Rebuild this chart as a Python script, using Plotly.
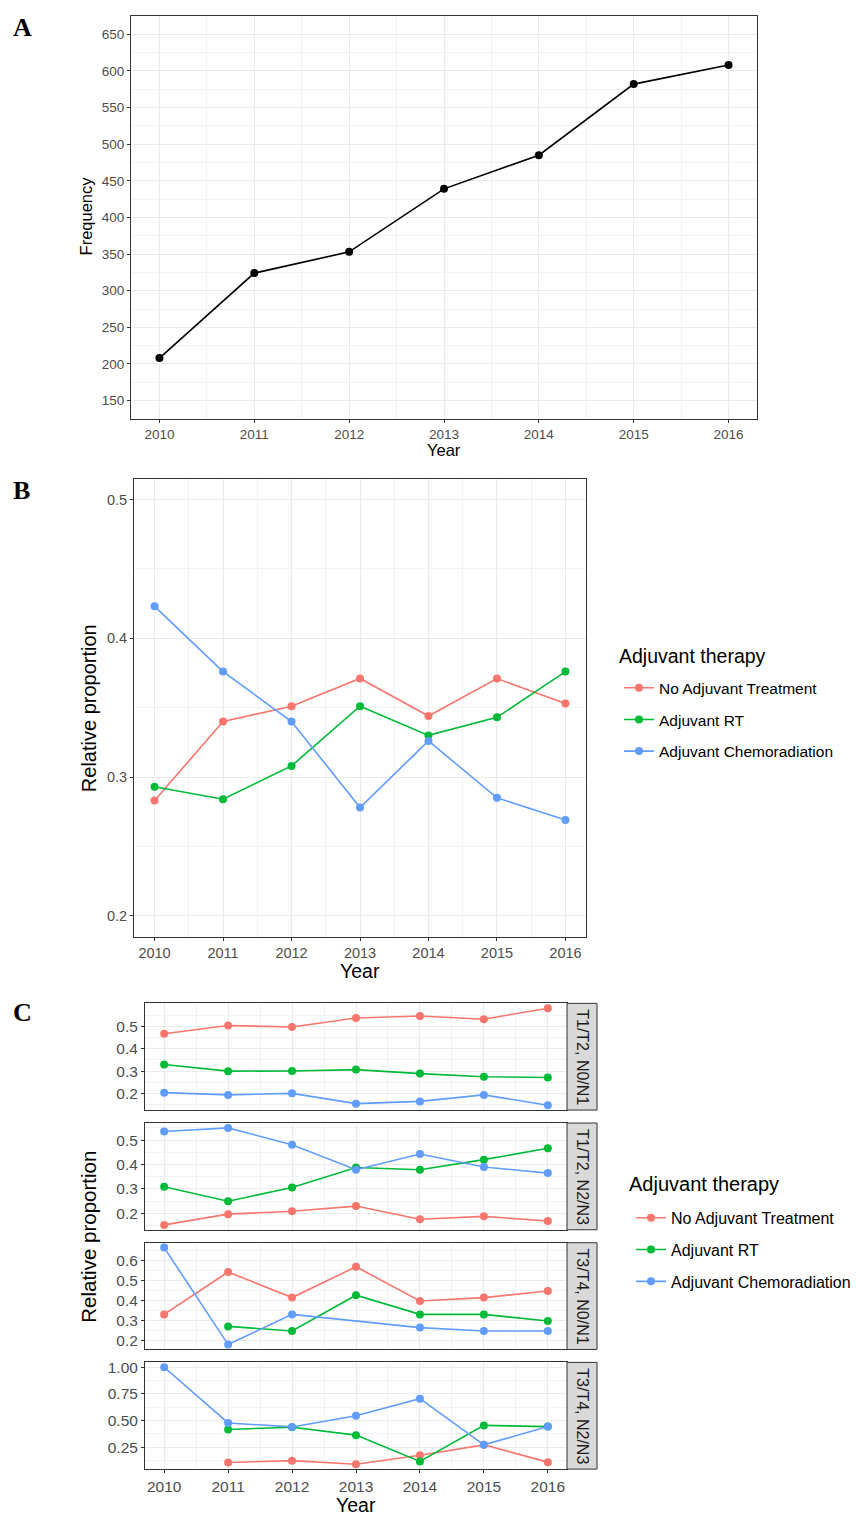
import plotly.graph_objects as go

W, H = 856, 1515

# ---------------- data ----------------
years = [2010, 2011, 2012, 2013, 2014, 2015, 2016]
year_ticks = ["2010", "2011", "2012", "2013", "2014", "2015", "2016"]

freq = [208, 324, 353, 439, 485, 582, 608]

therapies = ["No Adjuvant Treatment", "Adjuvant RT", "Adjuvant Chemoradiation"]
colors = ["#F8766D", "#00BA38", "#619CFF"]

b_no = [0.283, 0.340, 0.351, 0.371, 0.344, 0.371, 0.353]
b_rt = [0.293, 0.284, 0.308, 0.351, 0.330, 0.343, 0.376]
b_chemo = [0.423, 0.376, 0.340, 0.278, 0.326, 0.285, 0.269]

facets = ["T1/T2, N0/N1", "T1/T2, N2/N3", "T3/T4, N0/N1", "T3/T4, N2/N3"]
c1_no = [0.467, 0.504, 0.497, 0.537, 0.546, 0.532, 0.581]
c1_rt = [0.330, 0.300, 0.301, 0.307, 0.289, 0.275, 0.272]
c1_chemo = [0.204, 0.194, 0.201, 0.155, 0.165, 0.194, 0.148]
c2_no = [0.153, 0.197, 0.209, 0.230, 0.176, 0.188, 0.169]
c2_rt = [0.309, 0.250, 0.306, 0.388, 0.379, 0.420, 0.467]
c2_chemo = [0.535, 0.550, 0.481, 0.379, 0.443, 0.390, 0.365]
c3_no = [0.333, 0.545, 0.417, 0.571, 0.400, 0.417, 0.450]
c3_rt = [None, 0.273, 0.250, 0.429, 0.333, 0.333, 0.300]
c3_chemo = [0.667, 0.182, 0.333, None, 0.267, 0.250, 0.250]
c4_no = [None, 0.107, 0.125, 0.091, 0.176, 0.273, 0.111]
c4_rt = [None, 0.417, 0.438, 0.364, 0.118, 0.455, 0.444]
c4_chemo = [1.0, 0.478, 0.441, 0.545, 0.706, 0.273, 0.444]

c_series = [
    [c1_no, c1_rt, c1_chemo],
    [c2_no, c2_rt, c2_chemo],
    [c3_no, c3_rt, c3_chemo],
    [c4_no, c4_rt, c4_chemo],
]
c_ticks = [
    [0.2, 0.3, 0.4, 0.5],
    [0.2, 0.3, 0.4, 0.5],
    [0.2, 0.3, 0.4, 0.5, 0.6],
    [0.25, 0.50, 0.75, 1.00],
]
c_fmt = [".1f", ".1f", ".1f", ".2f"]

# ---------------- helpers ----------------
FONT = "Liberation Sans, Arial, sans-serif"
SERIF = "Liberation Serif, Times New Roman, serif"
LW = 1.6
MS = 8


def px(x):
    return x / W


def py(y):
    return 1 - y / H


def expand(vals, mult=0.05):
    v = [a for a in vals if a is not None]
    lo, hi = min(v), max(v)
    pad = (hi - lo) * mult
    return [lo - pad, hi + pad]


def axis(domain, size, **kw):
    d = dict(
        domain=domain,
        showline=True, mirror=True, linecolor="#333333", linewidth=1,
        showgrid=True, gridcolor="#EBEBEB", gridwidth=1.4,
        zeroline=False,
        ticks="outside", ticklen=3, tickcolor="#333333", tickwidth=1,
        tickfont=dict(family=FONT, size=size, color="#4D4D4D"),
        fixedrange=True,
    )
    d.update(kw)
    return d


def xyear(domain, size, **kw):
    return axis(domain, size, range=[2009.7, 2016.3], tickmode="array",
                tickvals=years, ticktext=year_ticks,
                minor=dict(tick0=2009.5, dtick=1, showgrid=True,
                           gridcolor="#F2F2F2", gridwidth=0.8), **kw)


fig = go.Figure()

# ---------------- panel A ----------------
fig.add_trace(go.Scatter(x=years, y=freq, mode="lines+markers",
                         line=dict(color="black", width=LW),
                         marker=dict(color="black", size=MS),
                         xaxis="x", yaxis="y", showlegend=False))

layout = dict(
    width=W, height=H,
    margin=dict(l=0, r=0, t=0, b=0),
    paper_bgcolor="white", plot_bgcolor="white",
    font=dict(family=FONT),
    hovermode=False,
)
layout["xaxis"] = xyear([px(131), px(757)], 13.5, anchor="y")
layout["yaxis"] = axis([py(416), py(12)], 13.5, anchor="x", range=[125, 675],
                       tickmode="array", tickvals=[150, 200, 250, 300, 350, 400, 450, 500, 550, 600, 650],
                       minor=dict(tick0=125, dtick=50, showgrid=True,
                                  gridcolor="#F2F2F2", gridwidth=0.8))

# ---------------- panel B ----------------
for name, col, vals in zip(therapies, colors, [b_no, b_rt, b_chemo]):
    fig.add_trace(go.Scatter(x=years, y=vals, mode="lines+markers", name=name,
                             line=dict(color=col, width=LW),
                             marker=dict(color=col, size=MS),
                             xaxis="x2", yaxis="y2", legend="legend",
                             legendgroup="B" + name))
layout["xaxis2"] = xyear([px(134), px(586)], 14.5, anchor="y2")
layout["yaxis2"] = axis([py(935), py(476)], 14.5, anchor="x2", range=[0.185, 0.515],
                        tickmode="array", tickvals=[0.2, 0.3, 0.4, 0.5], tickformat=".1f",
                        minor=dict(tick0=0.15, dtick=0.1, showgrid=True,
                                   gridcolor="#F2F2F2", gridwidth=0.8))

# ---------------- panel C ----------------
tops = [1002, 1122, 1242, 1362]
bots = [1109, 1229, 1349, 1469]
shapes = []
annotations = []
for i in range(4):
    xa = "x%d" % (i + 3)
    ya = "y%d" % (i + 3)
    allv = []
    for j, (name, col) in enumerate(zip(therapies, colors)):
        vals = c_series[i][j]
        allv += vals
        fig.add_trace(go.Scatter(x=years, y=vals, mode="lines+markers", name=name,
                                 connectgaps=True,
                                 line=dict(color=col, width=LW),
                                 marker=dict(color=col, size=MS),
                                 xaxis=xa, yaxis=ya, legend="legend2",
                                 legendgroup="C" + name, showlegend=(i == 0)))
    last = (i == 3)
    layout["xaxis%d" % (i + 3)] = xyear([px(145), px(567)], 15.5, anchor=ya,
                                        showticklabels=last,
                                        ticks="outside" if last else "")
    step = c_ticks[i][1] - c_ticks[i][0]
    layout["yaxis%d" % (i + 3)] = axis([py(bots[i]), py(tops[i])], 15.5, anchor=xa,
                                       range=expand(allv), tickmode="array",
                                       tickvals=c_ticks[i], tickformat=c_fmt[i],
                                       minor=dict(tick0=c_ticks[i][0] - step / 2, dtick=step,
                                                  showgrid=True, gridcolor="#F2F2F2",
                                                  gridwidth=0.8))
    shapes.append(dict(type="rect", xref="paper", yref="paper",
                       x0=px(567), x1=px(597), y0=py(bots[i]), y1=py(tops[i]),
                       fillcolor="#D9D9D9", line=dict(color="#333333", width=1),
                       layer="above"))
    annotations.append(dict(xref="paper", yref="paper", x=px(582.5), y=py((tops[i] + bots[i]) / 2),
                            xanchor="center", yanchor="middle",
                            text=facets[i], textangle=90, showarrow=False,
                            font=dict(family=FONT, size=16, color="#1A1A1A")))


# ---------------- titles & labels ----------------
def label(x, y, text, size, angle=0, color="black", family=FONT, xanchor="center"):
    annotations.append(dict(xref="paper", yref="paper", x=px(x), y=py(y), text=text,
                            xanchor=xanchor, yanchor="middle",
                            textangle=angle, showarrow=False,
                            font=dict(family=family, size=size, color=color)))


label(22, 24, "<b>A</b>", 26, family=SERIF)
label(21, 488, "<b>B</b>", 26, family=SERIF)
label(22, 1011, "<b>C</b>", 26, family=SERIF)

label(86, 213, "Frequency", 16.5, angle=-90)
label(444, 447, "Year", 16.5)
label(89, 706, "Relative proportion", 20, angle=-90)
label(360, 970, "Year", 19.5)
label(89, 1236, "Relative proportion", 20.5, angle=-90)
label(356, 1505, "Year", 19.5)

# legend titles
label(617, 654, "Adjuvant therapy", 19.5, xanchor="left")
label(627, 1183, "Adjuvant therapy", 20, xanchor="left")

layout["shapes"] = shapes
layout["annotations"] = annotations

layout["legend"] = dict(
    x=px(619), y=py(669), xanchor="left", yanchor="top",
    font=dict(family=FONT, size=15.5, color="black"),
    tracegroupgap=8.5, bgcolor="rgba(0,0,0,0)",
)
layout["legend2"] = dict(
    x=px(631), y=py(1200), xanchor="left", yanchor="top",
    font=dict(family=FONT, size=16, color="black"),
    tracegroupgap=8, bgcolor="rgba(0,0,0,0)",
)

fig.update_layout(**layout)
fig.write_html("out.html")
